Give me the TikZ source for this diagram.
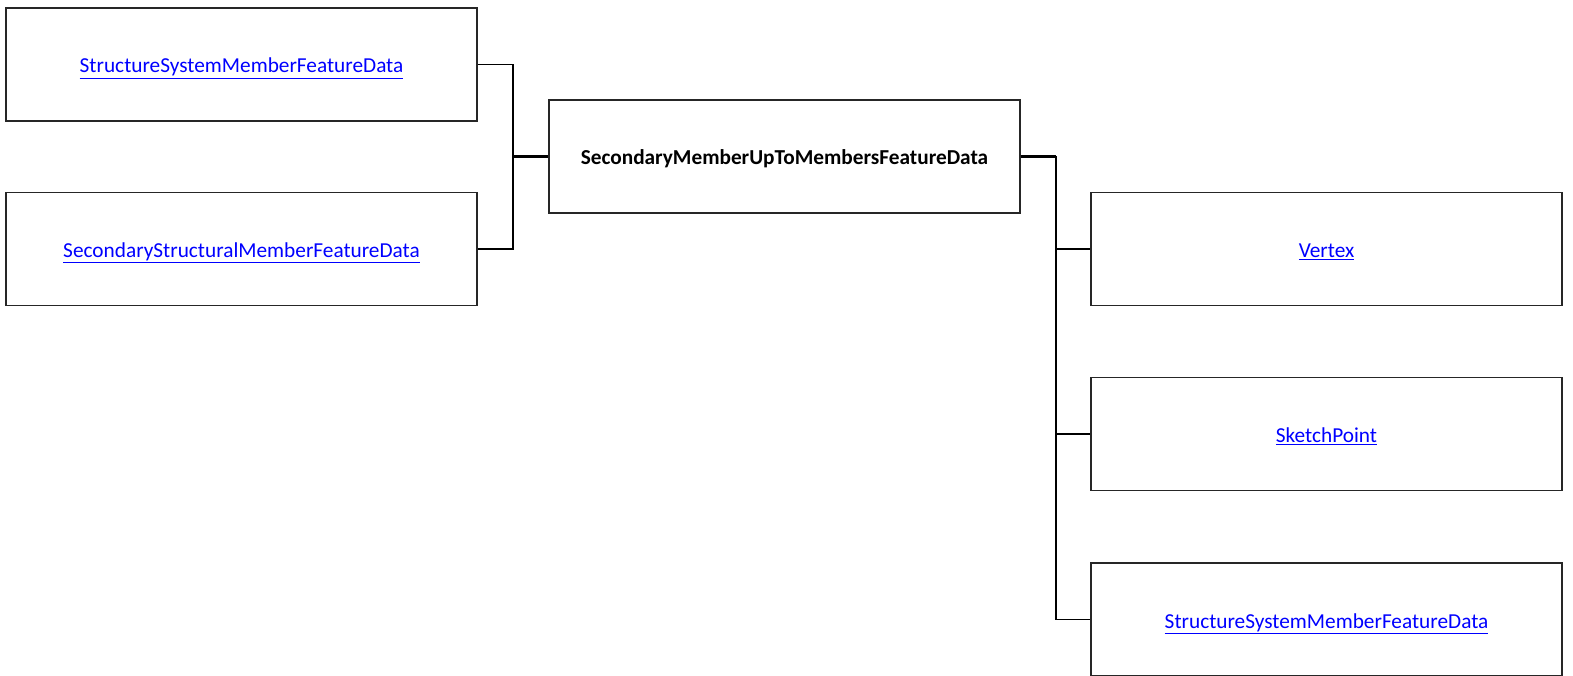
\documentclass[tikz,border=0pt]{standalone}
\usepackage{fontspec}
\setmainfont{Carlito}
\begin{document}
\begin{tikzpicture}[x=1pt,y=-1pt,
  box/.style={draw=black!85,line width=1.6pt,minimum width=471pt,minimum height=113pt,inner sep=0pt,text height=17pt,text depth=0pt,font=\fontsize{21.3}{24}\selectfont},
  conn/.style={draw=black,line width=1.8pt},
  thick conn/.style={draw=black,line width=2.8pt}]
\useasboundingbox (0,0) rectangle (1573,676);
\node[box] (l1) at (241.5,64.5) {\textcolor{blue}{\underline{StructureSystemMemberFeatureData}}};
\node[box] (l2) at (241.5,249) {\textcolor{blue}{\underline{SecondaryStructuralMemberFeatureData}}};
\node[box] (c) at (784.5,156.5) {\textbf{SecondaryMemberUpToMembersFeatureData}};
\node[box] (r1) at (1326.5,249) {\textcolor{blue}{\underline{Vertex}}};
\node[box] (r2) at (1326.5,434) {\textcolor{blue}{\underline{SketchPoint}}};
\node[box] (r3) at (1326.5,619.5) {\textcolor{blue}{\underline{StructureSystemMemberFeatureData}}};
\coordinate (jl) at (513,156.5);
\coordinate (jr) at (1056,156.5);
\draw[conn] (l1.east) -| (jl);
\draw[conn] (l2.east) -| (jl);
\draw[thick conn] (jl) -- (c.west);
\draw[thick conn] (c.east) -- (jr);
\draw[conn] (jr) |- (r1.west);
\draw[conn] (jr) |- (r2.west);
\draw[conn] (jr) |- (r3.west);
\end{tikzpicture}
\end{document}
